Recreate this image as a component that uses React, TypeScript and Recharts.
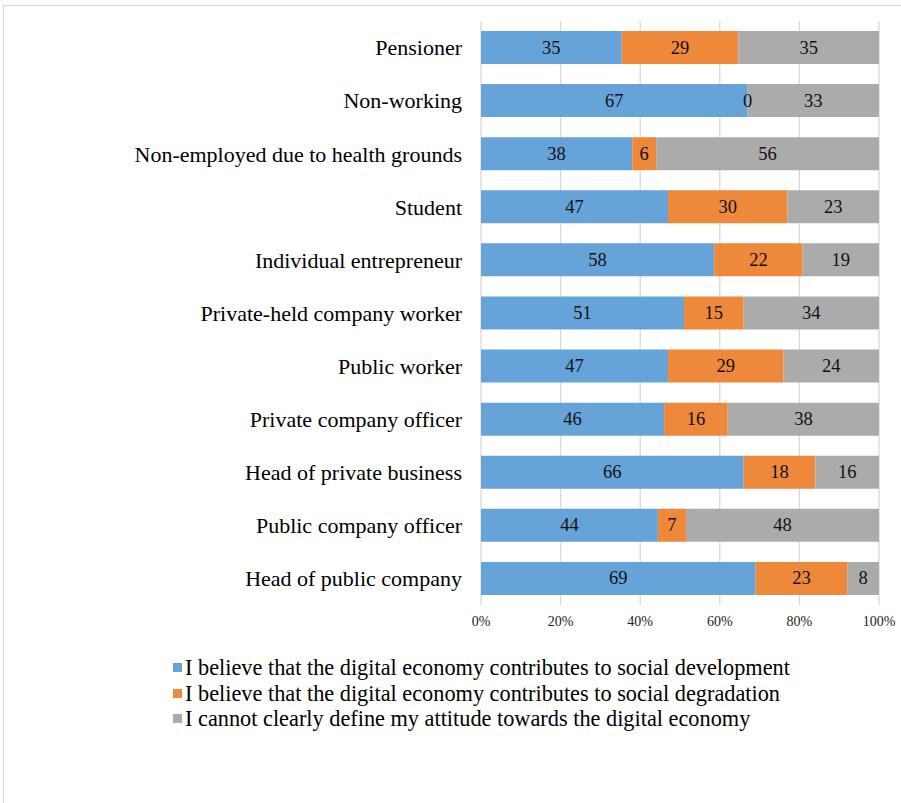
import React from "react";
import { BarChart, Bar, XAxis, YAxis, CartesianGrid, LabelList } from "recharts";

const categories = [
  "Pensioner",
  "Non-working",
  "Non-employed due to health grounds",
  "Student",
  "Individual entrepreneur",
  "Private-held company worker",
  "Public worker",
  "Private company officer",
  "Head of private business",
  "Public company officer",
  "Head of public company",
];

const development = [35, 67, 38, 47, 58, 51, 47, 46, 66, 44, 69];
const degradation = [29, 0, 6, 30, 22, 15, 29, 16, 18, 7, 23];
const undefinedAttitude = [35, 33, 56, 23, 19, 34, 24, 38, 16, 48, 8];

const xTicks = [0, 0.2, 0.4, 0.6, 0.8, 1];

const seriesNames = [
  "I believe that the digital economy contributes to social development",
  "I believe that the digital economy contributes to social degradation",
  "I cannot clearly define my attitude towards the digital economy",
];

const colors = ["#66A3D9", "#EE883A", "#ABABAB"];

const FONT = "Liberation Serif";

const data = categories.map((c, i) => ({
  name: c,
  dev: development[i],
  deg: degradation[i],
  und: undefinedAttitude[i],
}));

const labelText = (x: number, y: number, v: number | string) => (
  <text
    x={x}
    y={y}
    textAnchor="middle"
    dominantBaseline="central"
    fontFamily={FONT}
    fontSize={18.5}
    fill="#111"
  >
    {v}
  </text>
);

// zero-width segments can get lost under the next bar, so the grey bar
// also draws the orange label when the orange value is 0
const undLabel = (p: any) => {
  const { x, y, width, height, value, index } = p;
  const cy = Number(y) + Number(height) / 2;
  return (
    <g>
      {labelText(Number(x) + Number(width) / 2, cy, value)}
      {data[index] && data[index].deg === 0 ? labelText(Number(x), cy, 0) : null}
    </g>
  );
};

const plainLabel = (p: any) => {
  const { x, y, width, height, value } = p;
  return labelText(Number(x) + Number(width) / 2, Number(y) + Number(height) / 2, value);
};

export default function App() {
  return (
    <div
      style={{
        position: "absolute",
        left: 0,
        top: 0,
        width: 901,
        height: 803,
        overflow: "hidden",
        background: "#fff",
      }}
    >
      <div
        style={{
          position: "absolute",
          left: 3,
          top: 5,
          width: 1200,
          height: 1200,
          border: "1px solid #d9d9d9",
        }}
      />
      <BarChart
        width={901}
        height={803}
        data={data}
        layout="vertical"
        stackOffset="expand"
        barSize={33}
        margin={{ top: 21, right: 22, bottom: 168, left: 0 }}
      >
        <CartesianGrid horizontal={false} stroke="#d9d9d9" strokeWidth={1.3} />
        <XAxis
          type="number"
          domain={[0, 1]}
          ticks={xTicks}
          tickFormatter={(v) => `${Math.round(v * 100)}%`}
          axisLine={false}
          tickLine={false}
          tickSize={0}
          tickMargin={11}
          height={30}
          interval={0}
          tick={{ fontFamily: FONT, fontSize: 14, fill: "#222" }}
        />
        <YAxis
          type="category"
          dataKey="name"
          width={481}
          axisLine={false}
          tickLine={false}
          tickSize={0}
          tickMargin={19}
          interval={0}
          tick={{ fontFamily: FONT, fontSize: 22, fill: "#000" }}
        />
        <Bar dataKey="dev" stackId="a" fill={colors[0]} isAnimationActive={false}>
          <LabelList dataKey="dev" content={plainLabel} />
        </Bar>
        <Bar dataKey="deg" stackId="a" fill={colors[1]} isAnimationActive={false}>
          <LabelList dataKey="deg" content={plainLabel} />
        </Bar>
        <Bar dataKey="und" stackId="a" fill={colors[2]} isAnimationActive={false}>
          <LabelList dataKey="und" content={undLabel} />
        </Bar>
      </BarChart>
      <div
        style={{
          position: "absolute",
          left: 173,
          top: 655,
          fontFamily: FONT,
          fontSize: 22.3,
          color: "#000",
          lineHeight: "25.5px",
        }}
      >
        {seriesNames.map((n, i) => (
          <div key={n} style={{ display: "flex", alignItems: "center", whiteSpace: "nowrap" }}>
            <span
              style={{
                display: "inline-block",
                width: 9,
                height: 9,
                background: colors[i],
                marginRight: 3,
              }}
            />
            <span>{n}</span>
          </div>
        ))}
      </div>
    </div>
  );
}
